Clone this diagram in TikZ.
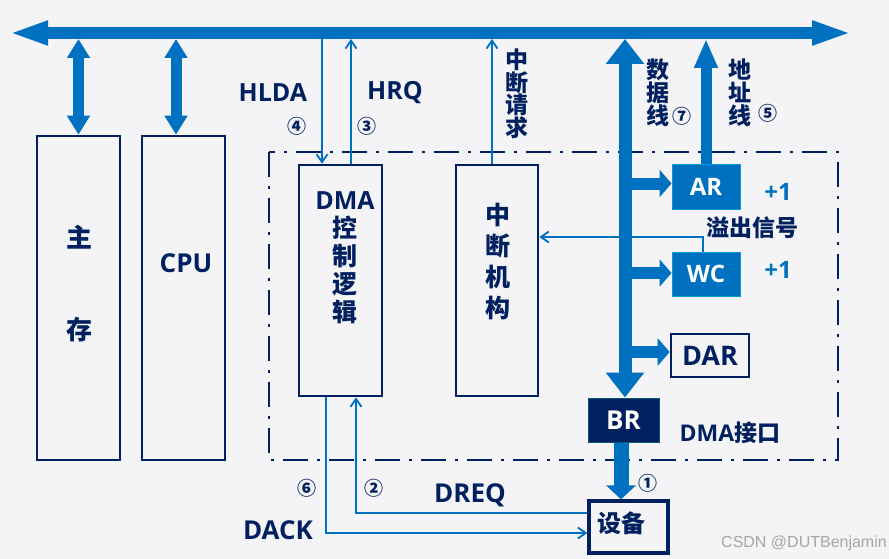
\documentclass[tikz,border=0pt]{standalone}
\usepackage{fontspec}
\setmainfont{Open Sans}
\newfontfamily\cjk{Noto Sans CJK SC}
\newfontfamily\wmfont{Liberation Sans}
\usetikzlibrary{arrows.meta}
\definecolor{navy}{RGB}{0,32,96}
\definecolor{blu}{RGB}{0,112,192}
\definecolor{bg}{RGB}{244,244,246}
\begin{document}
\begin{tikzpicture}[x=1pt,y=-1pt,
  box/.style={draw=navy,line width=2.6pt,inner sep=0pt},
  fillbox/.style={draw=blu!70!cyan,line width=1pt,fill=blu,inner sep=0pt,text=white,font=\bfseries\fontsize{24}{24}\selectfont},
  lab/.style={text=navy,font=\bfseries\fontsize{25}{28}\selectfont,inner sep=0pt},
  clab/.style={text=navy,font=\cjk\bfseries\fontsize{23}{23}\selectfont,inner sep=0pt,align=center},
  num/.style={text=navy,font=\cjk\bfseries\fontsize{19}{19}\selectfont,inner sep=0pt},
  sig/.style={draw=blu,line width=1.8pt,-{Straight Barb[length=8pt,width=11pt]}},
  fat/.style={draw=blu}
]
\fill[bg] (0,0) rectangle (889,559);
\useasboundingbox (0,0) rectangle (889,559);

% dash-dot interface frame
\draw[navy,line width=2.8pt,dash pattern=on 25pt off 9pt on 3pt off 9pt] (269,152) rectangle (838,460);

% boxes
\node[box,minimum width=83pt,minimum height=324pt] (mem) at (78.5,298) {};
\node[box,minimum width=83pt,minimum height=324pt] (cpu) at (183.5,298) {};
\node[box,minimum width=83pt,minimum height=231pt] (dma) at (340.5,280.5) {};
\node[box,minimum width=82pt,minimum height=231pt] (int) at (497,280.5) {};
\node[fillbox,minimum width=68pt,minimum height=44pt] (ar) at (706,187) {AR};
\node[fillbox,minimum width=68pt,minimum height=44pt] (wc) at (706,274) {WC};
\node[box,minimum width=78pt,minimum height=43pt,text=navy,font=\bfseries\fontsize{27}{27}\selectfont] (dar) at (710,355.5) {DAR};
\node[draw=teal!60!navy,line width=1pt,fill=navy,inner sep=0pt,minimum width=71pt,minimum height=44pt,text=white,font=\bfseries\fontsize{26}{26}\selectfont] (br) at (623.5,420) {BR};
\node[box,line width=3.2pt,minimum width=79pt,minimum height=52pt] (dev) at (628.5,527) {};

% helper coordinates
\coordinate (busL) at (9,33);
\coordinate (busR) at (852,33);
\coordinate (busB) at (0,39);
\coordinate (cpua) at (176,39);
\coordinate (db) at (625,39);
\coordinate (bd) at (621,0);
\coordinate (hl) at (322,39);
\coordinate (hr) at (351,39);
\coordinate (ir) at (492,39);
\coordinate (ov) at (703,237);
\coordinate (dq) at (356,513);
\coordinate (dk) at (326,533);

% system bus
\draw[fat,line width=12pt,{Triangle[length=39pt,width=22pt]}-{Triangle[length=40pt,width=22pt]}] (busL) -- (busR);
% memory / cpu links
\draw[fat,line width=11pt,{Triangle[length=19pt,width=22pt]}-{Triangle[length=19pt,width=22pt]}] (mem.north |- busB) -- (mem.north);
\draw[fat,line width=11pt,{Triangle[length=19pt,width=22pt]}-{Triangle[length=19pt,width=22pt]}] (cpua) -- (cpua |- cpu.north);
% data bus
\draw[fat,line width=13pt,{Triangle[length=25pt,width=37pt]}-{Triangle[length=25pt,width=37pt]}] (db) -- (db |- br.north);
\draw[fat,line width=12pt,-{Triangle[length=12pt,width=27pt]}] (db |- 0,183.5) -- (ar.west |- 0,183.5);
\draw[fat,line width=12pt,-{Triangle[length=12pt,width=27pt]}] (db |- 0,273) -- (wc.west |- 0,273);
\draw[fat,line width=12pt,-{Triangle[length=12pt,width=27pt]}] (db |- 0,352) -- (dar.west |- 0,352);
% address line
\draw[fat,line width=11pt,-{Triangle[length=29pt,width=22pt]}] (ar.north) -- (ar.north |- busB);
% BR to device
\draw[fat,line width=15pt,-{Triangle[length=14pt,width=29pt]}] (bd |- br.south) -- (bd |- dev.north);

% thin signal lines
\draw[sig] (hl) -- (hl |- dma.north);
\draw[sig] (hr |- dma.north) -- (hr);
\draw[sig] (ir |- int.north) -- (ir);
\draw[sig] (wc.north -| ov) -- (ov) -- (ov -| int.east);
\draw[sig] (dq -| dev.west) -- (dq) -- (dq |- dma.south);
\draw[sig] (dk |- dma.south) -- (dk) -- (dk -| dev.west);

% texts
\node[clab,font=\cjk\bfseries\fontsize{26}{26}\selectfont] (tzhu) at (79,237) {主};
\node[clab,font=\cjk\bfseries\fontsize{26}{26}\selectfont] (tcun) at (79,330) {存};
\node[lab,font=\bfseries\fontsize{26}{26}\selectfont] (tcpu) at (186,263) {CPU};
\node[clab,font=\cjk\bfseries\fontsize{25}{28}\selectfont] (tdma) at (345,258) {{\rmfamily\bfseries DMA}\\控\\制\\逻\\辑};
\node[clab,font=\cjk\bfseries\fontsize{25}{31}\selectfont] (tint) at (498,262) {中\\断\\机\\构};
\node[lab] (thlda) at (273,93) {HLDA};
\node[lab] (thrq) at (395,93) {HRQ};
\node[num] (n4) at (297,126) {④};
\node[num] (n3) at (367,126) {③};
\node[clab,font=\cjk\bfseries\fontsize{23}{22.5}\selectfont] (tirq) at (517,94) {中\\断\\请\\求};
\node[clab] (tdata) at (658,93) {数\\据\\线};
\node[num] (n7) at (682,116) {⑦};
\node[clab] (taddr) at (740,93) {地\\址\\线};
\node[num] (n5) at (768,113) {⑤};
\node[lab,text=blu,font=\bfseries\fontsize{24}{24}\selectfont] (p1a) at (778,192) {+1};
\node[lab,text=blu,font=\bfseries\fontsize{24}{24}\selectfont] (p1b) at (778,270) {+1};
\node[clab] (tovf) at (752,228) {溢出信号};
\node[clab] (tif) at (730,433) {{\rmfamily\bfseries DMA}接口};
\node[num] (n1) at (648,483) {①};
\node[num] (n6) at (307,488) {⑥};
\node[num] (n2) at (374,488) {②};
\node[lab,font=\bfseries\fontsize{26}{26}\selectfont] (tdreq) at (470,495) {DREQ};
\node[lab,font=\bfseries\fontsize{26}{26}\selectfont] (tdack) at (278,530) {DACK};
\node[clab,font=\cjk\bfseries\fontsize{24}{24}\selectfont] (tdev) at (621,523) {设备};
\node[text=black!35,font=\wmfont\fontsize{16}{16}\selectfont,inner sep=0pt] (wm) at (804,543) {CSDN @DUTBenjamin};
\end{tikzpicture}
\end{document}
